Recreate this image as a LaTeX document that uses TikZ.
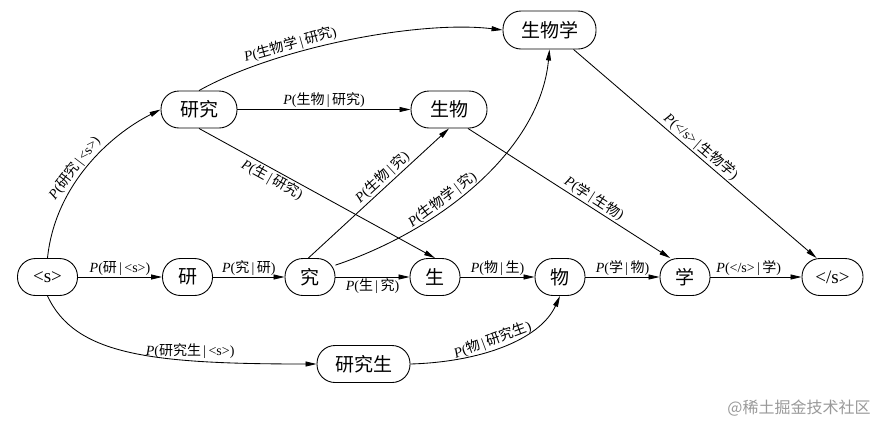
\documentclass[tikz,border=0pt]{standalone}
\usepackage{fontspec}
\setmainfont{Liberation Serif}
\newfontfamily\cjk{Noto Sans CJK SC}
\usetikzlibrary{arrows.meta}
\newcommand\zh[1]{{\cjk #1}}
\newcommand\pp[2]{\textit{P}(#1\,|\,#2)}
\begin{document}
\begin{tikzpicture}[x=1pt,y=-1pt,
  box/.style={draw, line width=0.9pt, rounded corners=18pt, minimum height=37pt,
    inner sep=0pt, font=\fontsize{19}{21}\selectfont},
  e/.style={-{Triangle[length=11pt,width=5pt]}, line width=0.85pt},
  lab/.style={font=\fontsize{14}{16}\selectfont, inner sep=1.5pt}]
\useasboundingbox (0,0) rectangle (886,424);
% nodes
\node[box, minimum width=60pt] (s) at (47.5,277) {<s>};
\node[box, minimum width=50pt] (yan) at (187.5,277) {\zh{研}};
\node[box, minimum width=50pt] (jiu) at (310,277) {\zh{究}};
\node[box, minimum width=50pt] (sh) at (435,277) {\zh{生}};
\node[box, minimum width=50pt] (wu) at (560,277) {\zh{物}};
\node[box, minimum width=50pt] (xue) at (685,277) {\zh{学}};
\node[box, minimum width=61pt] (end) at (832.5,277) {</s>};
\node[box, minimum width=76pt] (yj) at (199,109.5) {\zh{研究}};
\node[box, minimum width=76pt] (sw) at (449,109.5) {\zh{生物}};
\node[box, minimum width=93pt, minimum height=38pt] (swx) at (549.5,30) {\zh{生物学}};
\node[box, minimum width=93pt] (yjs) at (363.5,364) {\zh{研究生}};
% straight chain
\draw[e] (s) -- node[lab,above]{\pp{\zh{研}}{<s>}} (yan);
\draw[e] (yan) -- node[lab,above]{\pp{\zh{究}}{\zh{研}}} (jiu);
\draw[e] (jiu) -- node[lab,below]{\pp{\zh{生}}{\zh{究}}} (sh);
\draw[e] (sh) -- node[lab,above]{\pp{\zh{物}}{\zh{生}}} (wu);
\draw[e] (wu) -- node[lab,above]{\pp{\zh{学}}{\zh{物}}} (xue);
\draw[e] (xue) -- node[lab,above,pos=0.42]{\pp{</s>}{\zh{学}}} (end);
% other edges
\draw[e] (yj) -- node[lab,above]{\pp{\zh{生物}}{\zh{研究}}} (sw);
\draw[e] (s.north) .. controls (55,185) and (110,135) .. node[lab,above,sloped,pos=0.45]{\pp{\zh{研究}}{<s>}} (yj.west);
\draw[e] (yj.north) .. controls (277,47) and (420,20) .. node[lab,above,sloped,pos=0.33]{\pp{\zh{生物学}}{\zh{研究}}} (swx.west);
\draw[e] (yj.south) -- node[lab,below,sloped,pos=0.33]{\pp{\zh{生}}{\zh{研究}}} (sh.north);
\draw[e] (jiu.95) -- node[lab,above,sloped,pos=0.57]{\pp{\zh{生物}}{\zh{究}}} (sw.south);
\draw[e] (jiu.25) .. controls (440,230) and (540,150) .. node[lab,above,sloped,pos=0.38]{\pp{\zh{生物学}}{\zh{究}}} (swx.south);
\draw[e] (sw.-45) -- node[lab,above,sloped,pos=0.6]{\pp{\zh{学}}{\zh{生物}}} (xue.128);
\draw[e] (swx.-39) -- node[lab,above,sloped]{\pp{</s>}{\zh{生物学}}} (end.130);
\draw[e] (s.south) .. controls (75,355) and (150,364) .. node[lab,above,pos=0.7]{\pp{\zh{研究生}}{<s>}} (yjs.west);
\draw[e] (yjs.east) .. controls (480,362) and (540,340) .. node[lab,above,sloped,pos=0.45]{\pp{\zh{物}}{\zh{研究生}}} (wu.south);
% watermark
\node[font=\cjk\fontsize{16}{18}\selectfont, text=black!40, inner sep=0pt] (wm) at (799,408) {@稀土掘金技术社区};
\end{tikzpicture}
\end{document}
